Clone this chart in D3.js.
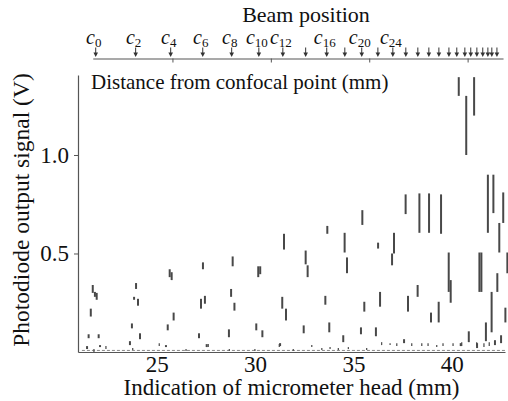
<!DOCTYPE html>
<html>
<head>
<meta charset="utf-8">
<script src="https://cdn.jsdelivr.net/npm/d3@7"></script>
<style>
  body { margin: 0; background: #fff; }
  svg { display: block; font-family: "Liberation Serif", "Times New Roman", serif; }
</style>
</head>
<body>
<div id="chart"></div>
<script>
var svgWidth = 508;
var svgHeight = 401;

// ticks
var xTicks = [25, 30, 35, 40];
var yTicks = [0.5, 1.0];
var distTicks = [25.8, 30.8, 35.8, 40.8];

// beam position arrows (micrometer mm) and their subscripts
var beamPos = [21.90, 23.93, 25.71, 27.34, 28.81, 30.19, 31.41, 32.57, 33.64, 34.56,
  35.42, 36.24, 37.00, 37.66, 38.27, 38.83, 39.34, 39.85, 40.25, 40.66,
  40.96, 41.27, 41.57, 41.83, 42.03, 42.29];
var beamLabels = ["0", "2", "4", "6", "8", "10", "12", "", "16", "", "20", "", "24"];

// signal pulses: [mm, low V, high V]
var pulses = [
  [21.46, 0.015, 0.03], [21.54, 0.07, 0.09], [21.65, 0.18, 0.22], [21.75, 0.30, 0.34],
  [21.86, 0.28, 0.305], [21.95, 0.265, 0.30], [22.05, 0.07, 0.09], [22.12, 0.025, 0.035],
  [23.64, 0.035, 0.055], [23.74, 0.12, 0.145], [23.85, 0.265, 0.28], [23.95, 0.32, 0.35],
  [24.05, 0.235, 0.27], [24.15, 0.065, 0.095],
  [25.47, 0.025, 0.035], [25.56, 0.11, 0.14], [25.66, 0.38, 0.42], [25.76, 0.365, 0.405],
  [25.86, 0.16, 0.20],
  [27.15, 0.07, 0.095], [27.25, 0.22, 0.27], [27.35, 0.42, 0.455], [27.45, 0.245, 0.285],
  [27.54, 0.025, 0.04],
  [28.67, 0.075, 0.115], [28.78, 0.28, 0.32], [28.86, 0.435, 0.485], [28.95, 0.21, 0.25],
  [30.06, 0.11, 0.145], [30.16, 0.38, 0.435], [30.26, 0.395, 0.435], [30.37, 0.075, 0.11],
  [31.27, 0.03, 0.045], [31.38, 0.22, 0.28], [31.47, 0.52, 0.60], [31.57, 0.16, 0.22],
  [32.47, 0.095, 0.135], [32.57, 0.445, 0.515], [32.67, 0.38, 0.44],
  [33.57, 0.24, 0.285], [33.67, 0.60, 0.64], [33.77, 0.10, 0.15],
  [34.48, 0.05, 0.085], [34.55, 0.505, 0.605], [34.67, 0.40, 0.48],
  [35.38, 0.09, 0.125], [35.45, 0.645, 0.72], [35.55, 0.205, 0.255],
  [36.14, 0.08, 0.125], [36.25, 0.525, 0.555], [36.35, 0.23, 0.305],
  [36.96, 0.44, 0.50], [37.06, 0.50, 0.605], [37.57, 0.045, 0.065],
  [37.65, 0.70, 0.80], [37.77, 0.205, 0.285],
  [38.26, 0.28, 0.34], [38.35, 0.605, 0.805],
  [38.84, 0.605, 0.805], [38.94, 0.15, 0.20],
  [39.33, 0.15, 0.255], [39.45, 0.60, 0.80],
  [39.84, 0.305, 0.505], [39.94, 0.25, 0.365],
  [40.35, 1.30, 1.395], [40.45, 0.03, 0.045],
  [40.73, 1.00, 1.30], [40.86, 0.05, 0.105],
  [41.13, 1.20, 1.395], [41.28, 0.02, 0.045],
  [41.40, 0.305, 0.505], [41.50, 0.305, 0.505],
  [41.73, 0.055, 0.15], [41.83, 0.605, 0.90],
  [42.02, 0.10, 0.305], [42.11, 0.705, 0.90], [42.19, 0.035, 0.06],
  [42.31, 0.305, 0.40], [42.41, 0.505, 0.655], [42.50, 0.045, 0.085],
  [42.61, 0.655, 0.81], [42.72, 0.15, 0.225], [42.82, 0.40, 0.505]
];

// small blips along the baseline: [mm, low V, high V]
var noise = [
  [21.81, 0, 0.015], [22.42, 0.015, 0.03], [23.78, 0.01, 0.02], [25.13, 0.03, 0.045],
  [26.49, 0.005, 0.015], [27.62, 0.025, 0.04], [28.69, 0.005, 0.015], [29.99, 0.005, 0.015],
  [31.23, 0.025, 0.04], [31.94, 0.005, 0.015], [32.88, 0.025, 0.035], [33.39, 0.01, 0.02],
  [33.81, 0.015, 0.025], [34.23, 0.01, 0.02], [34.74, 0.015, 0.025], [35.67, 0.01, 0.02],
  [36.43, 0.035, 0.05], [36.86, 0.035, 0.045], [37.20, 0.03, 0.045], [37.96, 0.03, 0.045],
  [38.47, 0.03, 0.045], [38.79, 0.03, 0.045], [39.23, 0.025, 0.035], [39.55, 0.03, 0.045],
  [40.06, 0.03, 0.045], [40.50, 0.03, 0.05], [41.26, 0.03, 0.05], [41.63, 0.025, 0.045],
  [41.90, 0.03, 0.05]
];

var svg = d3.select("#chart")
  .append("svg")
  .attr("width", svgWidth)
  .attr("height", svgHeight);

svg.append("rect")
  .attr("width", svgWidth)
  .attr("height", svgHeight)
  .attr("fill", "#fff");

var x = d3.scaleLinear().domain([21, 42.7]).range([78, 505]);
var y = d3.scaleLinear().domain([0, 1.406]).range([352, 75]);

// axes
var bottomAxis = d3.axisBottom(x)
  .tickValues(xTicks)
  .tickSizeInner(0)
  .tickSizeOuter(0)
  .tickPadding(4);

var leftAxis = d3.axisLeft(y)
  .tickValues(yTicks)
  .tickSizeInner(4)
  .tickSizeOuter(0)
  .tickPadding(5)
  .tickFormat(d3.format(".1f"));

var gx = svg.append("g")
  .attr("transform", "translate(0," + y(0) + ")")
  .call(bottomAxis);

var gy = svg.append("g")
  .attr("transform", "translate(" + x(21) + ",0)")
  .call(leftAxis);

[gx, gy].forEach(function(g) {
  g.select(".domain").attr("stroke", "#555").attr("stroke-width", 1.2);
  g.selectAll(".tick line").attr("stroke", "#555");
  g.selectAll("text")
    .attr("fill", "#111")
    .attr("font-size", "23px")
    .attr("font-family", "Liberation Serif, Times New Roman, serif");
});

// baseline trace
svg.append("line")
  .attr("x1", x(21.2))
  .attr("x2", x(42.7))
  .attr("y1", y(0.008))
  .attr("y2", y(0.008))
  .attr("stroke", "#888")
  .attr("stroke-width", 1)
  .attr("stroke-dasharray", "3,2");

svg.selectAll(".noise")
  .data(noise)
  .enter()
  .append("line")
  .attr("class", "noise")
  .attr("x1", d => x(d[0]))
  .attr("x2", d => x(d[0]))
  .attr("y1", d => y(d[1]))
  .attr("y2", d => y(d[2]))
  .attr("stroke", "#555")
  .attr("stroke-width", 1.3);

svg.selectAll(".pulse")
  .data(pulses)
  .enter()
  .append("line")
  .attr("class", "pulse")
  .attr("x1", d => x(d[0]))
  .attr("x2", d => x(d[0]))
  .attr("y1", d => y(d[1]))
  .attr("y2", d => y(d[2]))
  .attr("stroke", "#484848")
  .attr("stroke-width", 2);

// top axis: distance from confocal point
var xTop = x.copy().domain([21.75, 42.6]).range([x(21.75), x(42.6)]);
var topY = 58.5;

var topAxis = d3.axisTop(xTop)
  .tickValues(distTicks)
  .tickSizeInner(-4)
  .tickSizeOuter(0)
  .tickFormat("");

var gt = svg.append("g")
  .attr("transform", "translate(0," + topY + ")")
  .call(topAxis);
gt.select(".domain").attr("stroke", "#555").attr("stroke-width", 1.2);
gt.selectAll(".tick line").attr("stroke", "#555");

// beam position arrows
var arrows = svg.selectAll(".arrow")
  .data(beamPos)
  .enter()
  .append("g")
  .attr("class", "arrow")
  .attr("transform", d => "translate(" + x(d) + ",0)");

arrows.append("line")
  .attr("y1", topY - 11)
  .attr("y2", topY - 4)
  .attr("stroke", "#333")
  .attr("stroke-width", 1);

arrows.append("path")
  .attr("d", "M-2.3," + (topY - 6) + "L0," + (topY - 1.5) + "L2.3," + (topY - 6) + "Z")
  .attr("fill", "#333");

var labels = svg.selectAll(".blabel")
  .data(beamLabels.map((s, i) => ({ s: s, p: beamPos[i] })).filter(d => d.s !== ""))
  .enter()
  .append("text")
  .attr("class", "blabel")
  .attr("x", d => x(d.p) - 2)
  .attr("y", 43.5)
  .attr("text-anchor", "middle")
  .attr("fill", "#111");

labels.append("tspan")
  .attr("font-style", "italic")
  .attr("font-size", "20px")
  .text("c");

labels.append("tspan")
  .attr("font-size", "13px")
  .attr("dy", 3)
  .text(d => d.s);

// titles
svg.append("text")
  .attr("x", 306)
  .attr("y", 21.5)
  .attr("text-anchor", "middle")
  .attr("font-size", "22px")
  .attr("fill", "#111")
  .text("Beam position");

svg.append("text")
  .attr("x", 91)
  .attr("y", 89)
  .attr("font-size", "21px")
  .attr("fill", "#111")
  .text("Distance from confocal point (mm)");

svg.append("text")
  .attr("x", 291.5)
  .attr("y", 395)
  .attr("text-anchor", "middle")
  .attr("font-size", "23px")
  .attr("fill", "#111")
  .text("Indication of micrometer head (mm)");

svg.append("text")
  .attr("transform", "translate(29,210) rotate(-90)")
  .attr("text-anchor", "middle")
  .attr("font-size", "23.5px")
  .attr("fill", "#111")
  .text("Photodiode output signal (V)");
</script>
</body>
</html>
